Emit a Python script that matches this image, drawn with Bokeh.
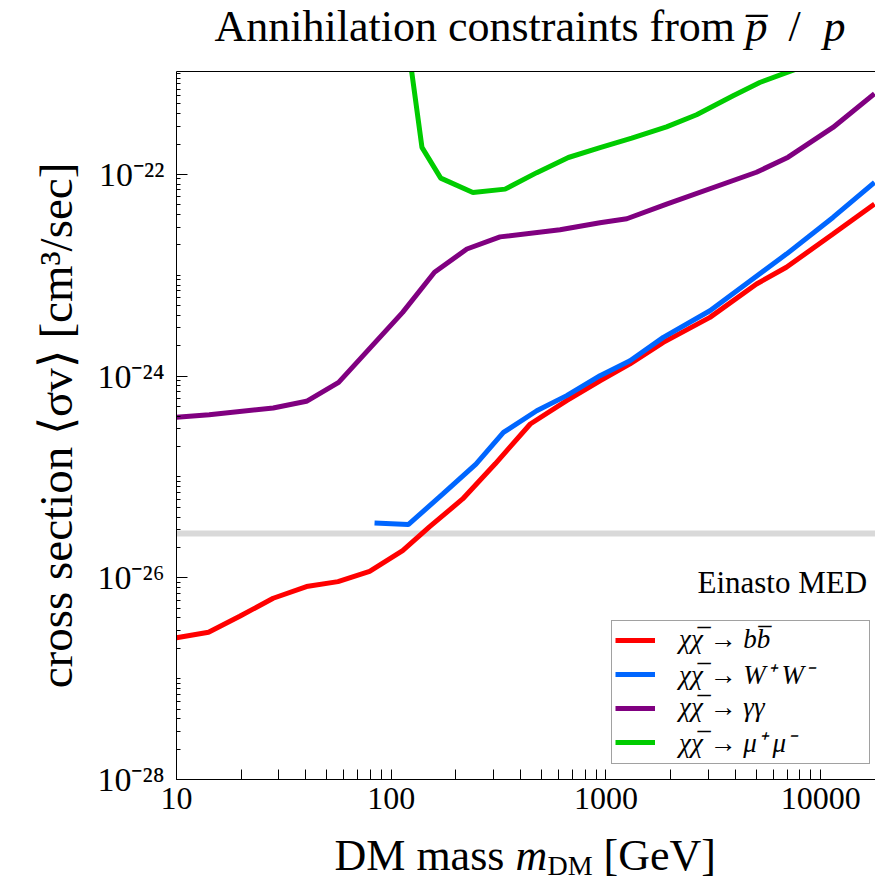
from bokeh.plotting import figure
from bokeh.layouts import column
from bokeh.models import Label, Legend, LegendItem, FixedTicker, LogAxis, Span
from bokeh.embed import file_html
from bokeh.resources import INLINE

# DM mass [GeV] and upper limits on <sigma v> [cm^3/s] per channel
mass_bb = [10, 14.1, 19.7, 28.2, 40.3, 56.5, 79.3, 113, 151, 215, 305, 444,
           656, 938, 1294, 1849, 3048, 5023, 6918, 11400, 17800]
sv_bb = [2.54e-27, 2.88e-27, 4.15e-27, 6.27e-27, 8.18e-27, 9.16e-27, 1.16e-26,
         1.86e-26, 3.21e-26, 6.05e-26, 1.35e-25, 3.35e-25, 5.70e-25, 8.99e-25,
         1.32e-24, 2.16e-24, 3.82e-24, 8.18e-24, 1.20e-23, 2.56e-23, 5.07e-23]

mass_ww = [83.6, 120, 174, 248, 333, 476, 656, 938, 1294, 1849, 3048, 6918,
           11400, 17800]
sv_ww = [3.50e-26, 3.37e-26, 6.78e-26, 1.34e-25, 2.76e-25, 4.53e-25, 6.40e-25,
         1.01e-24, 1.42e-24, 2.42e-24, 4.44e-24, 1.62e-23, 3.74e-23, 8.32e-23]

mass_gg = [10, 14.2, 28.2, 40.3, 56.9, 113, 159, 225, 321, 611, 937, 1250,
           1915, 5020, 7050, 11400, 17800]
sv_gg = [3.90e-25, 4.14e-25, 4.83e-25, 5.62e-25, 8.65e-25, 4.28e-24, 1.07e-23,
         1.82e-23, 2.40e-23, 2.82e-23, 3.31e-23, 3.63e-23, 5.07e-23, 1.05e-22,
         1.48e-22, 2.92e-22, 6.31e-22]

mass_mm = [113, 139, 170, 240, 339, 476, 668, 938, 1318, 1914, 2642, 3908,
           5200, 6918, 11400]
sv_mm = [4.8e-21, 1.85e-22, 9.18e-23, 6.62e-23, 7.14e-23, 1.04e-22, 1.47e-22,
         1.84e-22, 2.29e-22, 2.96e-22, 3.90e-22, 6.01e-22, 8.15e-22, 1.02e-21,
         1.5e-21]

thermal_sv = 2.75e-26

channel_labels = ["\u03c7\u03c7\u0305 \u2192 bb\u0305",
                  "\u03c7\u03c7\u0305 \u2192 W\u207a W\u207b",
                  "\u03c7\u03c7\u0305 \u2192 \u03b3\u03b3",
                  "\u03c7\u03c7\u0305 \u2192 \u03bc\u207a \u03bc\u207b"]

x_major = [10, 100, 1000, 10000]
x_major_labels = ["10", "100", "1000", "10000"]
y_major = [1e-28, 1e-26, 1e-24, 1e-22]
y_major_labels = ["10\u207b\u00b2\u2078", "10\u207b\u00b2\u2076",
                  "10\u207b\u00b2\u2074", "10\u207b\u00b2\u00b2"]

SERIF = "Liberation Serif"
W = 875
LEFT = 176      # frame left edge
TOP_H = 71      # title strip
FRAME_H = 708   # plot frame height
MAIN_H = 755    # plot frame plus tick labels
BOT_H = 883 - TOP_H - MAIN_H   # x-axis title strip


def text_strip(height):
    # frame is aligned with the main plot's frame, so x data == page pixels
    f = figure(width=W, height=height, x_range=(LEFT, W), y_range=(0, height),
               output_backend="svg", toolbar_location=None,
               min_border_left=LEFT, min_border_right=0,
               min_border_top=0, min_border_bottom=0)
    f.axis.visible = False
    f.xgrid.visible = False
    f.ygrid.visible = False
    f.outline_line_color = None
    return f


def add_text(f, text, x, baseline, size, style="normal"):
    # vertical placement by the middle of the text box (~0.34 em above baseline)
    f.add_layout(Label(x=x, y=baseline + 0.34 * size, text=text, text_font=SERIF,
                       text_font_size=f"{size}px", text_font_style=style,
                       text_color="black", text_align="left",
                       text_baseline="middle"))


# title: "Annihilation constraints from p-bar / p"
head = text_strip(TOP_H)
add_text(head, "Annihilation constraints from", 214, 30, 44)
add_text(head, "p\u0305", 745, 30, 44, "italic")
add_text(head, "/", 788, 30, 44)
add_text(head, "p", 823, 30, 44, "italic")

# main plot
p = figure(width=W, height=MAIN_H, x_axis_type="log", y_axis_type="log",
           x_range=(10, 10 ** 4.255), y_range=(1e-28, 10 ** -20.98),
           output_backend="svg", toolbar_location=None,
           min_border_left=LEFT, min_border_right=0,
           min_border_top=0, min_border_bottom=MAIN_H - FRAME_H)
p.outline_line_color = None
p.xgrid.visible = False
p.ygrid.visible = False

# thermal relic reference line, below the curves
p.add_layout(Span(location=thermal_sv, dimension="width", line_color="#d9d9d9",
                  line_width=6, level="underlay"))

r_bb = p.line(mass_bb, sv_bb, line_color="#ff0000", line_width=5)
r_ww = p.line(mass_ww, sv_ww, line_color="#0066ff", line_width=5)
r_gg = p.line(mass_gg, sv_gg, line_color="#800080", line_width=5)
r_mm = p.line(mass_mm, sv_mm, line_color="#00cc00", line_width=5)

xa = p.xaxis[0]
xa.ticker = FixedTicker(ticks=x_major,
                        minor_ticks=[k * 10 ** e for e in range(1, 5) for k in range(2, 10)])
xa.major_label_overrides = dict(zip(x_major, x_major_labels))
ya = p.yaxis[0]
ya.ticker = FixedTicker(ticks=y_major,
                        minor_ticks=[k * 10.0 ** e for e in range(-28, -20) for k in range(1, 10)])
ya.major_label_overrides = dict(zip(y_major, y_major_labels))

for ax in (xa, ya):
    ax.axis_line_color = "black"
    ax.major_tick_line_color = "black"
    ax.minor_tick_line_color = "black"
    ax.major_tick_out = 0
    ax.minor_tick_out = 0
    ax.major_label_text_font = SERIF
    ax.major_label_text_color = "black"

xa.major_label_text_font_size = "32px"
ya.major_label_text_font_size = "34px"
xa.major_tick_in = 10
xa.minor_tick_in = 10
xa.major_label_standoff = 8
ya.major_tick_in = 11
ya.minor_tick_in = 4
ya.major_label_standoff = 12

ya.axis_label = "cross section \u27e8\u03c3v\u27e9 [cm\u00b3/sec]"
ya.axis_label_text_font = SERIF
ya.axis_label_text_font_size = "47px"
ya.axis_label_text_font_style = "normal"
ya.axis_label_text_color = "black"
ya.axis_label_standoff = 12

# top edge of the frame
top = LogAxis(ticker=FixedTicker(ticks=[]), major_tick_in=0, major_tick_out=0,
              minor_tick_in=0, minor_tick_out=0, axis_line_color="black",
              major_label_standoff=0, axis_label_standoff=0,
              major_label_text_font_size="0px")
p.add_layout(top, "above")

p.add_layout(Label(x=521, y=186 + 0.34 * 31, x_units="screen", y_units="screen",
                   text="Einasto MED", text_font=SERIF, text_font_size="31px",
                   text_color="black", text_baseline="middle"))

legend = Legend(items=[LegendItem(label=lab, renderers=[r])
                       for lab, r in zip(channel_labels, [r_bb, r_ww, r_gg, r_mm])],
                location=(435, 15), orientation="vertical",
                label_text_font=SERIF, label_text_font_size="27px",
                label_text_font_style="italic", label_text_color="black",
                glyph_width=40, glyph_height=28, label_height=28, label_width=187,
                spacing=0, padding=3, margin=0, label_standoff=24,
                border_line_color="#444444", border_line_width=1,
                background_fill_color="white", background_fill_alpha=1)
p.add_layout(legend)

# x-axis title: "DM mass m_DM [GeV]"
foot = text_strip(BOT_H)
add_text(foot, "DM mass", 334, 13, 44)
add_text(foot, "m", 515, 13, 44, "italic")
add_text(foot, "DM", 547, 8, 28)
add_text(foot, "[GeV]", 603, 13, 44)

layout = column(head, p, foot, spacing=0)
open("out.html", "w").write(file_html(layout, INLINE))
